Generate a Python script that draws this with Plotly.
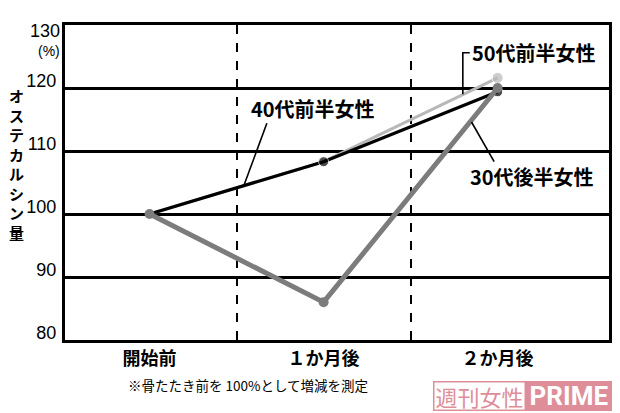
import plotly.graph_objects as go

# data
stages = ["開始前", "１か月後", "２か月後"]
stage_pos = [0, 1, 2]
women_50s = [100, 108.3, 121.6]   # 50代前半女性 (light grey)
women_40s = [100, 108.3, 119.4]   # 40代前半女性 (black)
women_30s = [100, 86, 120]        # 30代後半女性 (dark grey)
y_ticks = [80, 90, 100, 110, 120]

FONT_JP = "Noto Sans CJK JP"
PINK = "#de8e99"

fig = go.Figure()

fig.add_trace(go.Scatter(
    x=stage_pos, y=women_50s, mode="lines+markers", name="50代前半女性",
    line=dict(color="#b8b8b8", width=3),
    marker=dict(color="#b8b8b8", size=[0, 0, 11])))
fig.add_trace(go.Scatter(
    x=stage_pos, y=women_40s, mode="lines+markers", name="40代前半女性",
    line=dict(color="#000000", width=3.2),
    marker=dict(color="#000000", size=[0, 10, 10])))
fig.add_trace(go.Scatter(
    x=stage_pos, y=women_30s, mode="lines+markers", name="30代後半女性",
    line=dict(color="#7c7c7c", width=5),
    marker=dict(color="#7c7c7c", size=10)))

# leader lines for the series labels
line_style = dict(color="black", width=1.6)
fig.add_shape(type="line", x0=0.674, y0=114.4, x1=0.543, y1=104.6, line=line_style)
fig.add_shape(type="path", path="M 1.84 125.6 L 1.80 125.6 L 1.80 119.0", line=line_style)
fig.add_shape(type="line", x0=1.85, y0=114.6, x1=1.98, y1=108.3, line=line_style)

label_font = dict(family=FONT_JP, size=20, color="black", weight="bold")
fig.add_annotation(x=0.94, y=116.8, text="40代前半女性", showarrow=False,
                   yanchor="middle", font=label_font)
fig.add_annotation(x=2.21, y=125.6, text="50代前半女性", showarrow=False,
                   yanchor="middle", font=label_font)
fig.add_annotation(x=2.20, y=106.0, text="30代後半女性", showarrow=False,
                   yanchor="middle", font=label_font)

# top tick label and unit
fig.add_annotation(xref="paper", x=0, xanchor="right", xshift=-3, y=130, yanchor="top",
                   yshift=6, text="130", showarrow=False,
                   font=dict(family="Liberation Sans", size=18, color="black"))
fig.add_annotation(xref="paper", x=0, xanchor="right", xshift=-3, yref="paper", y=0.917,
                   yanchor="middle", text="(%)", showarrow=False,
                   font=dict(family="Liberation Sans", size=14, color="black"))

# vertical axis title, upright characters
fig.add_annotation(xref="paper", yref="paper", x=-0.09, y=0.56, xanchor="center",
                   yanchor="middle", text="<br>".join("オステカルシン量"), showarrow=False,
                   font=dict(family=FONT_JP, size=15, color="black", weight="bold"))

# footnote
fig.add_annotation(xref="paper", yref="paper", x=0.113, y=-0.143, xanchor="left",
                   yanchor="middle", text="※骨たたき前を 100%として増減を測定",
                   showarrow=False, font=dict(family=FONT_JP, size=13.5, color="black"))

# watermark
fig.add_annotation(xref="paper", yref="paper", x=0.6764, y=-0.130, xanchor="left",
                   yanchor="top", text="週刊女性", showarrow=False, width=90, height=27,
                   bordercolor=PINK, borderwidth=1.5, bgcolor="white", borderpad=0,
                   font=dict(family=FONT_JP, size=22, color=PINK))
fig.add_annotation(xref="paper", yref="paper", x=0.847, y=-0.130, xanchor="left",
                   yanchor="top", text="PRIME", showarrow=False, width=83, height=27,
                   bgcolor=PINK, bordercolor=PINK, borderwidth=1.5, borderpad=0,
                   font=dict(family="Roboto", size=26, color="white", weight="bold"))

# the page body adds an 8px offset, so the figure is 8px smaller on each side
fig.update_layout(
    width=612, height=405,
    margin=dict(l=57, r=8, t=17, b=73),
    paper_bgcolor="white", plot_bgcolor="white",
    showlegend=False,
    xaxis=dict(
        range=[-0.486, 2.64], tickvals=stage_pos, ticktext=stages,
        showgrid=False, zeroline=False, ticks="",
        showline=True, linecolor="black", linewidth=3, mirror=True,
        tickfont=dict(family=FONT_JP, size=18, color="black", weight="bold"),
        minor=dict(tickvals=[0.5, 1.5], showgrid=True, gridcolor="black",
                   gridwidth=2, griddash="dash", ticks=""),
    ),
    yaxis=dict(
        range=[80, 130], tickvals=y_ticks,
        showgrid=True, gridcolor="black", gridwidth=2.5, zeroline=False, ticks="",
        showline=True, linecolor="black", linewidth=3, mirror=True,
        ticklabelshift=-7, ticklabelstandoff=2,
        tickfont=dict(family="Liberation Sans", size=18, color="black"),
    ),
)

fig.write_html("out.html")
